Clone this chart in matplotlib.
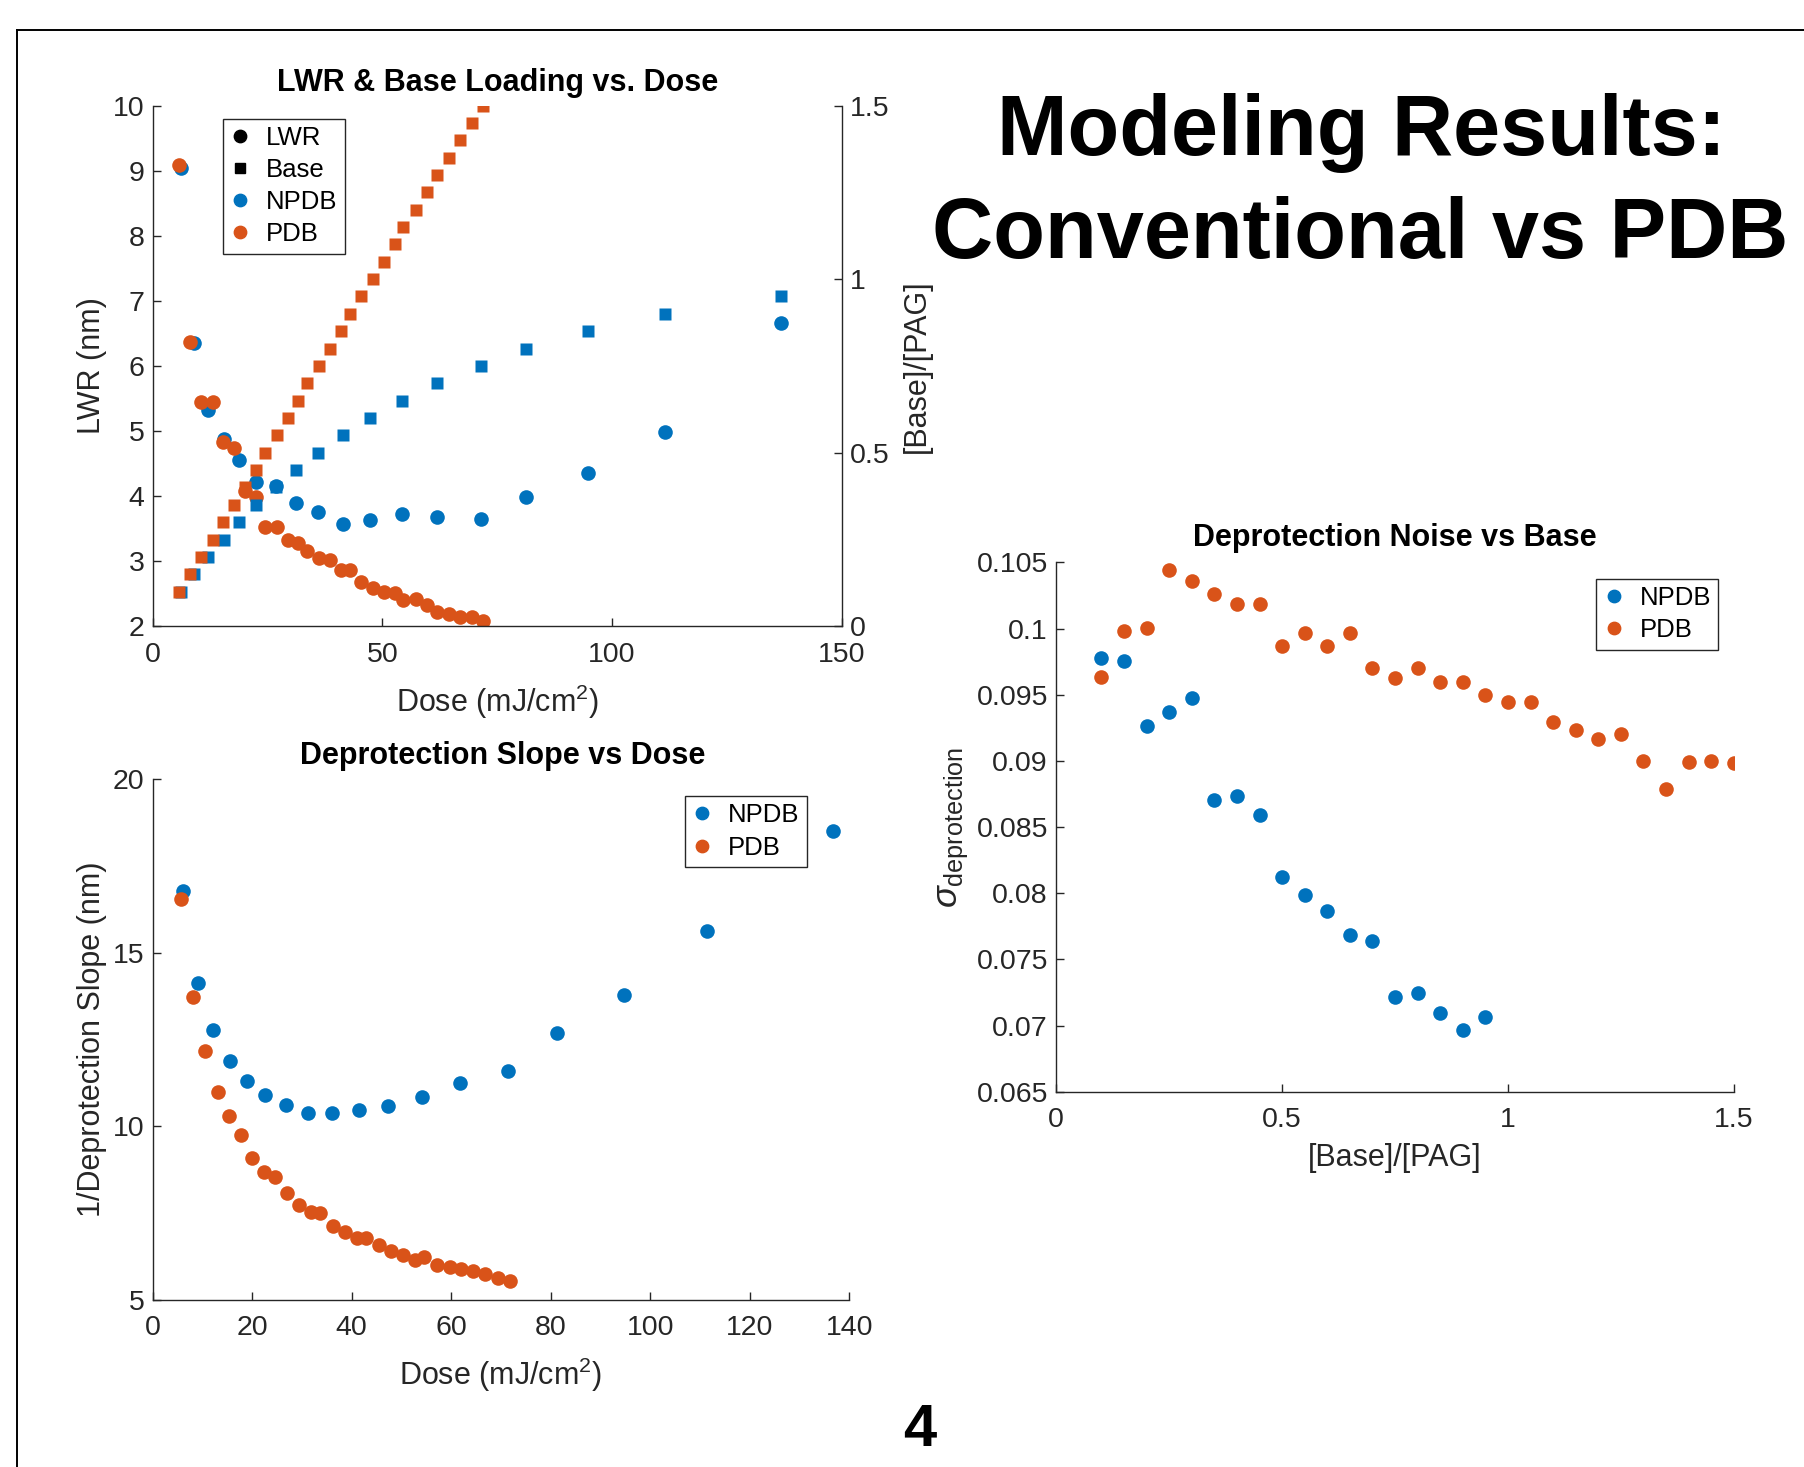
import matplotlib
matplotlib.use('Agg')
import matplotlib.pyplot as plt
from matplotlib.lines import Line2D
from matplotlib.ticker import FuncFormatter

plt.rcParams['font.family'] = ['Liberation Sans', 'DejaVu Sans']
plt.rcParams['mathtext.fontset'] = 'custom'
plt.rcParams['mathtext.rm'] = 'Liberation Sans'
plt.rcParams['mathtext.it'] = 'Liberation Sans:italic'
plt.rcParams['mathtext.bf'] = 'Liberation Sans:bold'

BLUE = '#0072BD'
ORANGE = '#D95319'
AXC = '#262626'

# ---------------- data ----------------
npdb_dose = [6.2, 9.1, 12.1, 15.5, 18.9, 22.6, 26.8, 31.2, 36.1, 41.4, 47.4, 54.2,
             61.8, 71.4, 81.2, 94.7, 111.5, 136.8]
npdb_lwr = [9.04, 6.35, 5.32, 4.88, 4.55, 4.22, 4.15, 3.90, 3.76, 3.58, 3.63, 3.72,
            3.68, 3.65, 3.99, 4.35, 4.98, 6.66]
npdb_base = [0.10, 0.15, 0.20, 0.25, 0.30, 0.35, 0.40, 0.45, 0.50, 0.55, 0.60, 0.65,
             0.70, 0.75, 0.80, 0.85, 0.90, 0.95]
npdb_slope = [16.78, 14.12, 12.78, 11.89, 11.30, 10.90, 10.63, 10.40, 10.39, 10.46,
              10.59, 10.85, 11.24, 11.61, 12.68, 13.79, 15.63, 18.50]
npdb_noise = [0.09777, 0.09757, 0.09262, 0.09372, 0.09473, 0.08707, 0.08733, 0.08591,
              0.08125, 0.07984, 0.07868, 0.07686, 0.07637, 0.07214, 0.07249, 0.07093,
              0.06963, 0.07061]

pdb_dose = [5.65, 8.12, 10.58, 13.15, 15.41, 17.67, 20.03, 22.40, 24.55, 27.02, 29.49,
            31.75, 33.70, 36.27, 38.63, 40.99, 42.95, 45.41, 47.98, 50.34, 52.81, 54.55,
            57.23, 59.69, 61.95, 64.42, 66.88, 69.45, 71.92]
pdb_lwr = [9.08, 6.37, 5.45, 5.45, 4.83, 4.74, 4.08, 3.99, 3.53, 3.53, 3.33, 3.28, 3.16,
           3.05, 3.02, 2.86, 2.86, 2.68, 2.59, 2.53, 2.51, 2.40, 2.42, 2.33, 2.22, 2.19,
           2.14, 2.15, 2.08]
pdb_base = [0.10, 0.15, 0.20, 0.25, 0.30, 0.35, 0.40, 0.45, 0.50, 0.55, 0.60, 0.65, 0.70,
            0.75, 0.80, 0.85, 0.90, 0.95, 1.00, 1.05, 1.10, 1.15, 1.20, 1.25, 1.30, 1.35,
            1.40, 1.45, 1.50]
pdb_slope = [16.54, 13.73, 12.16, 10.99, 10.31, 9.75, 9.10, 8.68, 8.55, 8.09, 7.74, 7.54,
             7.50, 7.14, 6.97, 6.80, 6.80, 6.60, 6.42, 6.30, 6.17, 6.23, 6.02, 5.96, 5.89,
             5.85, 5.75, 5.65, 5.56]
pdb_noise = [0.09632, 0.09982, 0.10003, 0.10445, 0.10358, 0.10260, 0.10188, 0.10188,
             0.09869, 0.09965, 0.09867, 0.09965, 0.09700, 0.09624, 0.09699, 0.09598,
             0.09598, 0.09502, 0.09447, 0.09447, 0.09297, 0.09233, 0.09167, 0.09207,
             0.09002, 0.08785, 0.08990, 0.09002, 0.08982]

W, H = 1804, 1467
fig = plt.figure(figsize=(W / 100, H / 100), dpi=100)

TICK = 20.5
LAB = 22
TIT = 22
LEG = 18.5
MS_C = 10.5
MS_S = 9


def box(l, t, r, b):
    return [l / W, 1 - b / H, (r - l) / W, (b - t) / H]


def style(ax, spines=('left', 'bottom')):
    for s in ['left', 'right', 'top', 'bottom']:
        ax.spines[s].set_visible(s in spines)
        ax.spines[s].set_color(AXC)
        ax.spines[s].set_linewidth(1.0)
    ax.tick_params(direction='in', length=6, width=1.0, colors=AXC,
                   labelsize=TICK, labelcolor=AXC, pad=6)
    ax.tick_params(axis='x', pad=11)


def leg(ax, handles, labels, loc, anchor):
    lg = ax.legend(handles, labels, loc=loc, bbox_to_anchor=anchor, borderaxespad=0,
                   fontsize=LEG, frameon=True, fancybox=False, edgecolor=AXC,
                   framealpha=1, handlelength=0.8, handletextpad=0.6,
                   labelspacing=0.32, borderpad=0.28)
    lg.get_frame().set_linewidth(1.0)
    for t in lg.get_texts():
        t.set_color('black')
    return lg


# ---------------- top-left ----------------
ax1 = fig.add_axes(box(152.65, 105.5, 841.7, 626.4))
ax1r = ax1.twinx()
style(ax1, ('left', 'bottom'))
style(ax1r, ('right',))
ax1.tick_params(right=False, top=False)
ax1r.tick_params(left=False, top=False, bottom=False)

ax1.plot(npdb_dose, npdb_lwr, 'o', color=BLUE, ms=MS_C, mec='none')
ax1.plot(pdb_dose, pdb_lwr, 'o', color=ORANGE, ms=MS_C, mec='none')
ax1r.plot(npdb_dose, npdb_base, 's', color=BLUE, ms=MS_S, mec='none')
ax1r.plot(pdb_dose, pdb_base, 's', color=ORANGE, ms=MS_S, mec='none')

ax1.set_xlim(0, 150)
ax1.set_ylim(2, 10)
ax1r.set_ylim(0, 1.5)
ax1.set_xticks([0, 50, 100, 150])
ax1.set_yticks(range(2, 11))
ax1r.set_yticks([0, 0.5, 1, 1.5])
ax1r.yaxis.set_major_formatter(FuncFormatter(lambda v, p: '%g' % v))

ax1.set_xlabel('Dose (mJ/cm$^2$)', fontsize=LAB, color=AXC, va='center')
ax1.xaxis.set_label_coords(0.5, -0.145)
ax1.set_ylabel('LWR (nm)', fontsize=LAB, color=AXC, va='center')
ax1.yaxis.set_label_coords(-0.088, 0.5)
ax1r.set_ylabel('[Base]/[PAG]', fontsize=LAB, color=AXC, va='center')
ax1r.yaxis.set_label_coords(1.109, 0.5)
ax1.text(0.5, 1.043, 'LWR & Base Loading vs. Dose', transform=ax1.transAxes,
         ha='center', va='center', fontsize=TIT, fontweight='bold')

h1 = [Line2D([], [], marker='o', color='black', ls='none', ms=MS_C * 0.85),
      Line2D([], [], marker='s', color='black', ls='none', ms=MS_S * 0.85),
      Line2D([], [], marker='o', color=BLUE, ls='none', ms=MS_C * 0.85),
      Line2D([], [], marker='o', color=ORANGE, ls='none', ms=MS_C * 0.85)]
leg(ax1r, h1, ['LWR', 'Base', 'NPDB', 'PDB'], 'upper left', (0.102, 0.975))

# ---------------- bottom-left ----------------
ax2 = fig.add_axes(box(152.65, 779, 849.2, 1300.2))
style(ax2)
ax2.tick_params(right=False, top=False)
ax2.plot(npdb_dose, npdb_slope, 'o', color=BLUE, ms=MS_C, mec='none')
ax2.plot(pdb_dose, pdb_slope, 'o', color=ORANGE, ms=MS_C, mec='none')
ax2.set_xlim(0, 140)
ax2.set_ylim(5, 20)
ax2.set_xticks(range(0, 141, 20))
ax2.set_yticks([5, 10, 15, 20])
ax2.set_xlabel('Dose (mJ/cm$^2$)', fontsize=LAB, color=AXC, va='center')
ax2.xaxis.set_label_coords(0.5, -0.144)
ax2.set_ylabel('1/Deprotection Slope (nm)', fontsize=LAB, color=AXC, va='center')
ax2.yaxis.set_label_coords(-0.087, 0.5)
ax2.text(0.503, 1.044, 'Deprotection Slope vs Dose', transform=ax2.transAxes,
         ha='center', va='center', fontsize=TIT, fontweight='bold')
h2 = [Line2D([], [], marker='o', color=BLUE, ls='none', ms=MS_C * 0.85),
      Line2D([], [], marker='o', color=ORANGE, ls='none', ms=MS_C * 0.85)]
leg(ax2, h2, ['NPDB', 'PDB'], 'upper right', (0.9387, 0.967))

# ---------------- right ----------------
ax3 = fig.add_axes(box(1056.3, 562.5, 1733.8, 1091.7))
style(ax3)
ax3.tick_params(right=False, top=False)
ax3.plot(npdb_base, npdb_noise, 'o', color=BLUE, ms=MS_C, mec='none')
ax3.plot(pdb_base, pdb_noise, 'o', color=ORANGE, ms=MS_C, mec='none')
ax3.set_xlim(0, 1.5)
ax3.set_ylim(0.065, 0.105)
ax3.set_xticks([0, 0.5, 1, 1.5])
ax3.set_yticks([0.065, 0.07, 0.075, 0.08, 0.085, 0.09, 0.095, 0.1, 0.105])
fmt = FuncFormatter(lambda v, p: ('%.3f' % v).rstrip('0').rstrip('.') if v != 0 else '0')
ax3.xaxis.set_major_formatter(fmt)
ax3.yaxis.set_major_formatter(fmt)
ax3.set_xlabel('[Base]/[PAG]', fontsize=LAB, color=AXC, va='center')
ax3.xaxis.set_label_coords(0.5, -0.126)
ax3.set_ylabel(r'$\sigma_{\mathrm{deprotection}}$', fontsize=26, color=AXC, va='center')
ax3.yaxis.set_label_coords(-0.153, 0.5)
ax3.text(0.5, 1.0455, 'Deprotection Noise vs Base', transform=ax3.transAxes,
         ha='center', va='center', fontsize=TIT, fontweight='bold')
leg(ax3, h2, ['NPDB', 'PDB'], 'upper right', (0.977, 0.969))

# ---------------- slide decorations ----------------
fig.text(1361 / W, 1 - 155 / H, 'Modeling Results:', ha='center', va='baseline',
         fontsize=61, fontweight='bold')
fig.text(1360.5 / W, 1 - 258 / H, 'Conventional vs PDB', ha='center', va='baseline',
         fontsize=61, fontweight='bold')
fig.text(920 / W, 1 - 1446 / H, '4', ha='center', va='baseline', fontsize=43,
         fontweight='bold')
fig.add_artist(Line2D([16.7 / W, 16.7 / W], [0, 1 - 30 / H], transform=fig.transFigure,
                      color='black', lw=1.4))
fig.add_artist(Line2D([16.7 / W, 1], [1 - 30 / H, 1 - 30 / H], transform=fig.transFigure,
                      color='black', lw=1.4))

fig.savefig('out.png', dpi=100, facecolor='white')
